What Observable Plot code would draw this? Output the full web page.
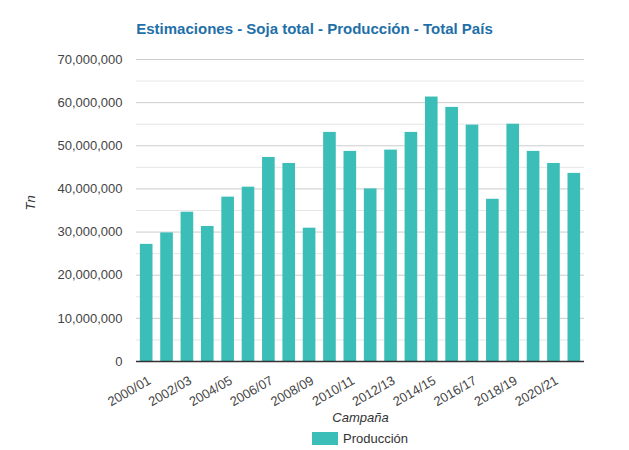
<!DOCTYPE html>
<html>
<head>
<meta charset="utf-8">
<script src="https://cdn.jsdelivr.net/npm/d3@7"></script>
<script src="https://cdn.jsdelivr.net/npm/@observablehq/plot@0.6"></script>
<style>
  html, body { margin: 0; padding: 0; background: #fff; }
  body { width: 629px; height: 450px; overflow: hidden; font-family: "Liberation Sans", Arial, sans-serif; position: relative; }
  #title { position: absolute; left: 0; top: 20px; width: 629px; text-align: center; font-weight: bold; font-size: 15px; color: #1f6fa8; }
  #chart { position: absolute; left: 0; top: 45px; }
  #legend { position: absolute; left: 136px; top: 431px; width: 448px; text-align: center; font-size: 13px; color: #333; }
  #legend .sw { display: inline-block; width: 26px; height: 13px; background: #3bbdb8; vertical-align: -2px; margin-right: 5px; }
</style>
</head>
<body>
<div id="title">Estimaciones - Soja total - Producción - Total País</div>
<div id="chart"></div>
<div id="legend"><span class="sw"></span>Producción</div>
<script>
const campaigns = ["2000/01","2001/02","2002/03","2003/04","2004/05","2005/06","2006/07","2007/08","2008/09","2009/10","2010/11","2011/12","2012/13","2013/14","2014/15","2015/16","2016/17","2017/18","2018/19","2019/20","2020/21","2021/22"];
const production = [27150000, 29800000, 34600000, 31300000, 38100000, 40400000, 47300000, 45900000, 30900000, 53100000, 48700000, 40000000, 49000000, 53100000, 61300000, 58900000, 54800000, 37600000, 55000000, 48700000, 45900000, 43600000];
const tickLabels = ["2000/01","2002/03","2004/05","2006/07","2008/09","2010/11","2012/13","2014/15","2016/17","2018/19","2020/21"];
const majorTicks = [0,10000000,20000000,30000000,40000000,50000000,60000000,70000000];
const minorTicks = [5000000,15000000,25000000,35000000,45000000,55000000,65000000];

const data = campaigns.map((c, i) => ({campaign: c, value: production[i]}));
const fmt = d3.format(",");

const chart = Plot.plot({
  width: 629,
  height: 380,
  marginLeft: 136,
  marginRight: 45,
  marginTop: 14,
  marginBottom: 64,
  style: {fontFamily: "Liberation Sans, Arial, sans-serif", fontSize: "13px", color: "#444"},
  x: {domain: campaigns, paddingInner: 0.38, paddingOuter: 0.19, round: false, label: null},
  y: {domain: [0, 70000000], label: null},
  marks: [
    Plot.ruleY(minorTicks, {stroke: "#e6e6e6", strokeWidth: 1}),
    Plot.ruleY(majorTicks, {stroke: "#cccccc", strokeWidth: 1}),
    Plot.barY(data, {x: "campaign", y: "value", fill: "#3bbdb8"}),
    Plot.ruleY([0], {stroke: "#333", strokeWidth: 1.5}),
    Plot.axisY({ticks: majorTicks, tickFormat: fmt, tickSize: 0, tickPadding: 14, fontSize: 13, fill: "#444", label: null}),
    Plot.axisX({ticks: tickLabels, tickSize: 0, tickRotate: -30, tickPadding: 14, dx: 3, dy: 4, fontSize: 13, fill: "#444", label: null}),
    Plot.text(["Campaña"], {frameAnchor: "bottom", dy: 60, fontStyle: "italic", fontSize: 13, fill: "#333"}),
    Plot.text(["Tn"], {frameAnchor: "left", dx: -106, rotate: -90, fontStyle: "italic", fontSize: 13, fill: "#333"})
  ]
});
document.getElementById("chart").appendChild(chart);
</script>
</body>
</html>
